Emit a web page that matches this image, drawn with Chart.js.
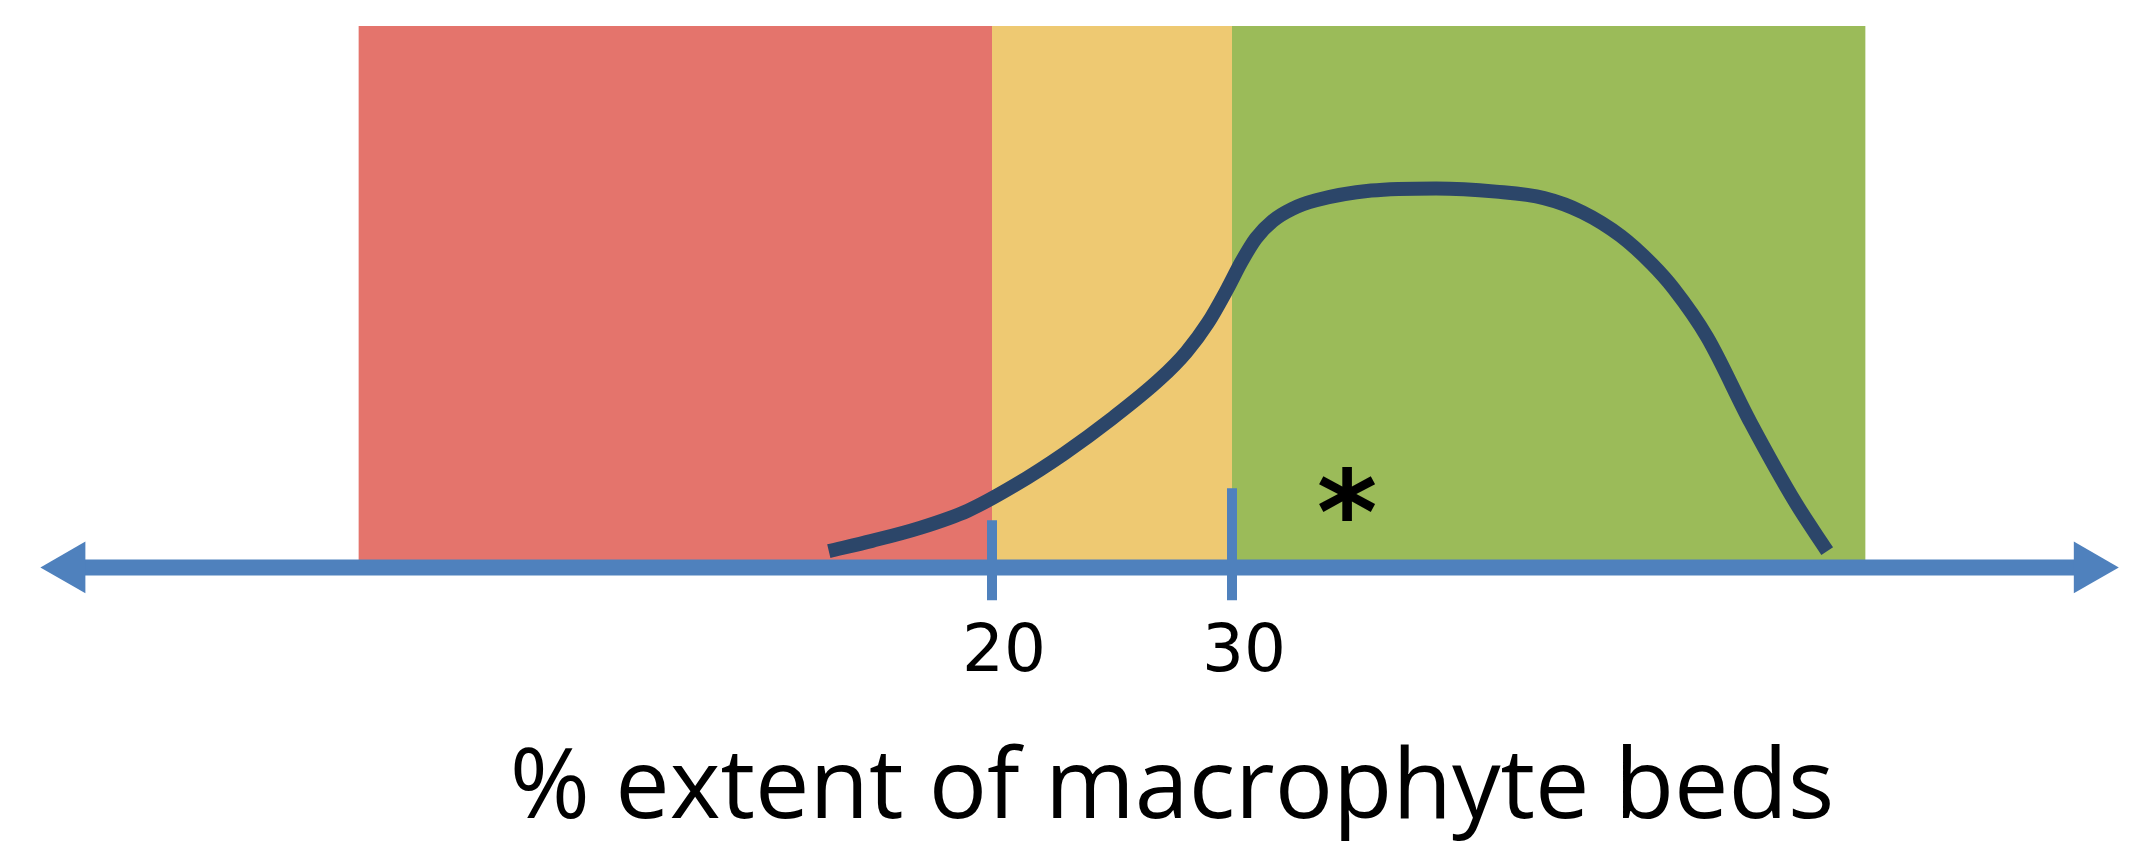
<!DOCTYPE html>
<html lang="en">
<head>
  <meta charset="UTF-8">
  <title>Macrophyte beds</title>
  <script src="https://cdn.jsdelivr.net/npm/chart.js@4.4.0/dist/chart.umd.min.js"></script>
  <style>
    html, body { margin: 0; padding: 0; background: #fff; }
    #chart { display: block; }
  </style>
</head>
<body>
  <canvas id="chart" width="2144" height="856"></canvas>
  <script>
    // shaded bands (x = % extent, height in relative units)
    const bandStart = [-6.4, 20, 30];
    const bandEnd = [20, 30, 56.4];
    const bandTop = 100;
    const bandColors = ['rgb(228, 116, 108)', 'rgb(238, 201, 114)', 'rgb(155, 187, 89)'];

    // the response curve
    const curveX = [13.2, 15, 17, 19, 21, 23, 25, 27, 28.1, 29, 29.8, 30.4, 31, 31.7, 32.5, 33.5, 35.8,
      38.5, 41, 43, 44.6, 46.2, 47.5, 48.4, 49.8, 51.6, 53.5, 54.8];
    const curveY = [3, 4.9, 7.3, 10.5, 15.3, 21, 27.5, 34.8, 39.8, 45.2, 51.4, 56.5, 60.8, 64, 66.2, 67.8, 69.6,
      70, 69.4, 68.2, 65.6, 61.2, 56, 51.5, 42.5, 26.8, 11.8, 3];

    // axis ticks
    const tickValues = [20, 30];
    const tickTops = [8.7, 14.6];
    const tickBottom = -6.1;

    // where the arrow heads of the axis sit
    const axisEnds = [-18.4, 65.7];

    const axisTitle = '% extent of macrophyte beds';
    const marker = { x: 34.8, y: 13.6, text: '*' };

    const axisColor = 'rgb(79, 129, 189)';
    const curveColor = 'rgb(44, 70, 105)';

    const datasets = [];

    datasets.push({
      data: curveX.map(function (x, i) { return { x: x, y: curveY[i] } }),
      borderColor: curveColor,
      borderWidth: 14,
      borderCapStyle: 'butt',
      pointRadius: 0,
      cubicInterpolationMode: 'monotone',
      fill: false
    });

    tickValues.forEach(function (v, i) {
      datasets.push({
        data: [{ x: v, y: tickTops[i] }, { x: v, y: tickBottom }],
        borderColor: axisColor,
        borderWidth: 10,
        borderCapStyle: 'butt',
        pointRadius: 0,
        fill: false
      });
    });

    // axis line with arrow heads; the large hover radius only keeps the
    // left head from being skipped, since it sits left of the chart area
    datasets.push({
      data: axisEnds.map(function (x) { return { x: x, y: 0 } }),
      borderColor: axisColor,
      borderWidth: 16,
      borderCapStyle: 'butt',
      pointStyle: 'triangle',
      pointRotation: [-90, 90],
      pointRadius: 30,
      pointHoverRadius: 160,
      pointBorderWidth: 0,
      pointBackgroundColor: axisColor,
      fill: false,
      clip: false
    });

    bandStart.forEach(function (start, i) {
      datasets.push({
        data: [{ x: start, y: bandTop }, { x: bandEnd[i], y: bandTop }],
        borderWidth: 0,
        borderColor: bandColors[i],
        backgroundColor: bandColors[i],
        pointRadius: 0,
        fill: 'origin'
      });
    });

    // the asterisk note inside the green band
    const markerPlugin = {
      id: 'marker',
      afterDatasetsDraw(chart) {
        const ctx = chart.ctx;
        const px = chart.scales.x.getPixelForValue(marker.x);
        const py = chart.scales.y.getPixelForValue(marker.y);
        ctx.save();
        ctx.font = 'bold 116px "DejaVu Sans"';
        ctx.textAlign = 'left';
        ctx.textBaseline = 'alphabetic';
        ctx.fillStyle = '#000';
        const m = ctx.measureText(marker.text);
        const dx = (m.actualBoundingBoxRight - m.actualBoundingBoxLeft) / 2;
        const dy = (m.actualBoundingBoxDescent - m.actualBoundingBoxAscent) / 2;
        ctx.fillText(marker.text, px - dx, py - dy);
        ctx.restore();
      }
    };

    const chart = new Chart(document.getElementById('chart'), {
      type: 'line',
      data: { datasets: datasets },
      options: {
        responsive: false,
        animation: false,
        events: [],
        layout: {
          autoPadding: false,
          padding: { left: 200, right: 0, top: 0, bottom: 0 }
        },
        plugins: {
          legend: { display: false },
          tooltip: { enabled: false }
        },
        scales: {
          x: {
            type: 'linear',
            min: -13,
            max: 68,
            afterBuildTicks: function (scale) {
              scale.ticks = tickValues.map(function (v) { return { value: v } });
            },
            grid: { display: false, drawTicks: false },
            border: { display: false },
            ticks: {
              color: '#000',
              font: { family: 'DejaVu Sans', size: 66 },
              padding: 14,
              labelOffset: 12,
              maxRotation: 0,
              autoSkip: false
            },
            title: {
              display: true,
              text: axisTitle,
              color: '#000',
              font: { family: 'Open Sans', size: 97 },
              padding: { top: 25, bottom: 7 }
            }
          },
          y: {
            display: false,
            min: -6.1,
            max: 104.8
          }
        }
      },
      plugins: [markerPlugin]
    });
  </script>
</body>
</html>
